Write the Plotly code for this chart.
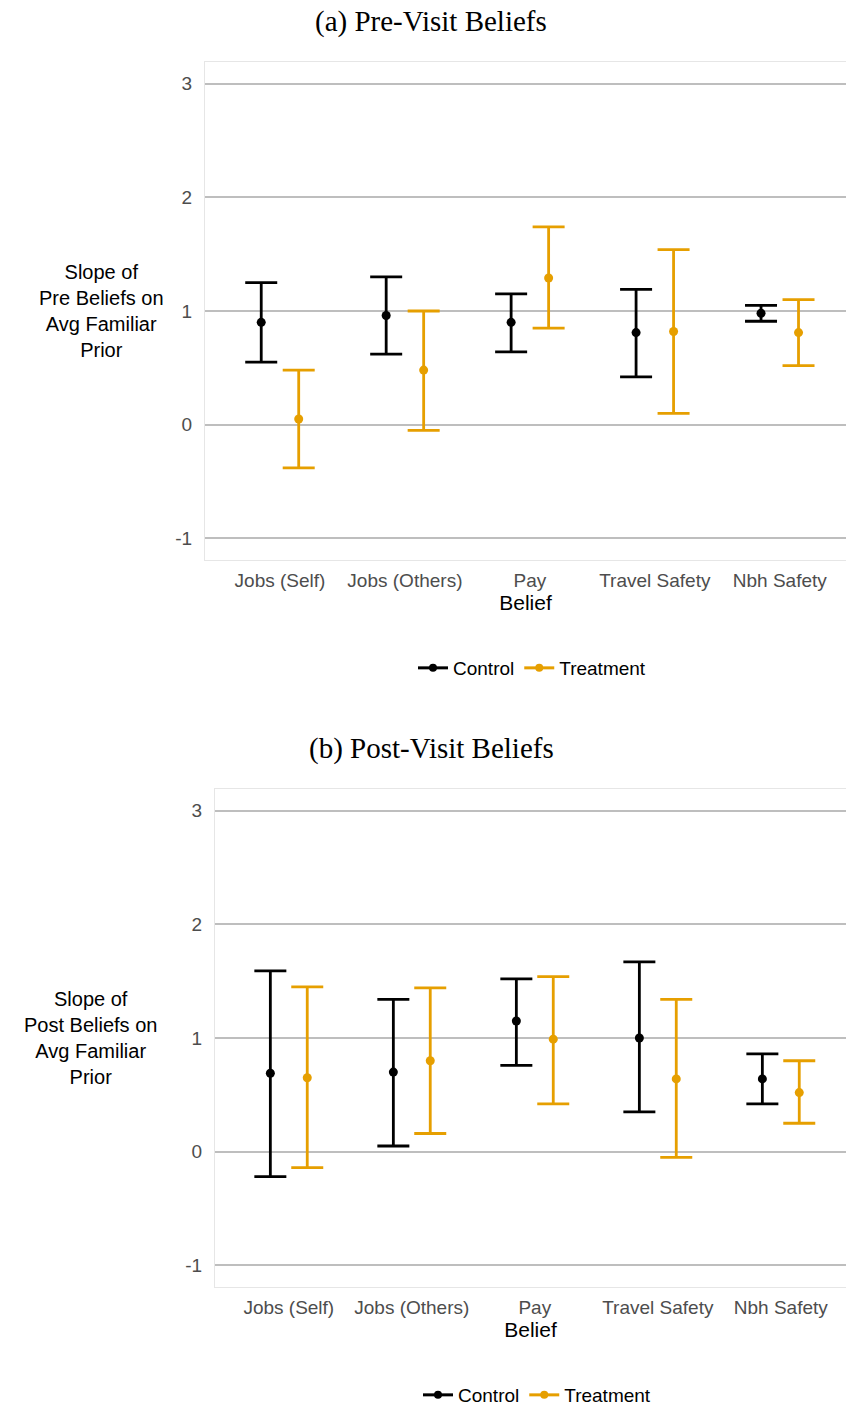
import plotly.graph_objects as go

categories = ["Jobs (Self)", "Jobs (Others)", "Pay", "Travel Safety", "Nbh Safety"]

# Panel (a) Pre-visit
pre_ctrl_est = [0.90, 0.96, 0.90, 0.81, 0.98]
pre_ctrl_hi = [1.25, 1.30, 1.15, 1.19, 1.05]
pre_ctrl_lo = [0.55, 0.62, 0.64, 0.42, 0.91]
pre_trt_est = [0.05, 0.48, 1.29, 0.82, 0.81]
pre_trt_hi = [0.48, 1.00, 1.74, 1.54, 1.10]
pre_trt_lo = [-0.38, -0.05, 0.85, 0.10, 0.52]

# Panel (b) Post-visit
post_ctrl_est = [0.69, 0.70, 1.15, 1.00, 0.64]
post_ctrl_hi = [1.59, 1.34, 1.52, 1.67, 0.86]
post_ctrl_lo = [-0.22, 0.05, 0.76, 0.35, 0.42]
post_trt_est = [0.65, 0.80, 0.99, 0.64, 0.52]
post_trt_hi = [1.45, 1.44, 1.54, 1.34, 0.80]
post_trt_lo = [-0.14, 0.16, 0.42, -0.05, 0.25]

groups = ["Control", "Treatment"]
colors = {"Control": "#000000", "Treatment": "#E69F00"}
dodge = {"Control": -0.15, "Treatment": 0.15}
ytick_vals = [-1, 0, 1, 2, 3]

W, H = 846, 1406
fig = go.Figure()

panels = [
    dict(xa="x", ya="y", legend="legend",
         data={"Control": (pre_ctrl_est, pre_ctrl_hi, pre_ctrl_lo),
               "Treatment": (pre_trt_est, pre_trt_hi, pre_trt_lo)}),
    dict(xa="x2", ya="y2", legend="legend2",
         data={"Control": (post_ctrl_est, post_ctrl_hi, post_ctrl_lo),
               "Treatment": (post_trt_est, post_trt_hi, post_trt_lo)}),
]

for p in panels:
    for g in groups:
        est, hi, lo = p["data"][g]
        xs = [i + 1 + dodge[g] for i in range(len(categories))]
        fig.add_trace(go.Scatter(
            x=xs, y=est, mode="markers", xaxis=p["xa"], yaxis=p["ya"],
            marker=dict(color=colors[g], size=9),
            error_y=dict(type="data", symmetric=False,
                         array=[h - e for h, e in zip(hi, est)],
                         arrayminus=[e - l for e, l in zip(est, lo)],
                         color=colors[g], thickness=2.8, width=16),
            showlegend=False, hoverinfo="skip"))
    for g in groups:
        fig.add_trace(go.Scatter(
            x=[None], y=[None], mode="lines+markers", name=g,
            xaxis=p["xa"], yaxis=p["ya"], legend=p["legend"],
            line=dict(color=colors[g], width=3), marker=dict(color=colors[g], size=8)))

def px_x(x):
    return x / W

def px_y(y):
    return 1 - y / H

def ydom(top, bottom):
    return [px_y(bottom), px_y(top)]

sans = "Liberation Sans, Arial"
tickfont = dict(family=sans, size=19, color="#4d4d4d")
axis_common = dict(showgrid=False, zeroline=False, showline=True, linecolor="#e6e6e6",
                   linewidth=1, mirror=True, ticks="", automargin=False,
                   tickvals=[1, 2, 3, 4, 5], ticktext=categories, tickfont=tickfont,
                   range=[0.4, 5.53], ticklabelstandoff=3,
                   title=dict(text="Belief", font=dict(family=sans, size=21, color="black"), standoff=2))
yaxis_common = dict(showgrid=True, gridcolor="#bebebe", gridwidth=2, zeroline=False,
                    showline=True, linecolor="#e6e6e6", linewidth=1, mirror=True,
                    tickvals=ytick_vals, ticktext=[str(v) for v in ytick_vals],
                    range=[-1.19, 3.19], ticks="", automargin=False, ticklabelstandoff=8,
                    tickfont=tickfont)

fig.update_layout(
    width=W, height=H, margin=dict(l=0, r=0, t=0, b=0, autoexpand=False),
    plot_bgcolor="white", paper_bgcolor="white",
    xaxis=dict(domain=[px_x(205), 1], anchor="y", **axis_common),
    yaxis=dict(domain=ydom(62, 560), anchor="x", **yaxis_common),
    xaxis2=dict(domain=[px_x(215), 1], anchor="y2", **axis_common),
    yaxis2=dict(domain=ydom(789, 1287), anchor="x2", **yaxis_common),
    legend=dict(orientation="h", x=px_x(532), xanchor="center", y=px_y(668), yanchor="middle",
                font=dict(family=sans, size=19, color="black"),
                bgcolor="rgba(0,0,0,0)"),
    legend2=dict(orientation="h", x=px_x(537), xanchor="center", y=px_y(1395), yanchor="middle",
                 font=dict(family=sans, size=19, color="black"),
                 bgcolor="rgba(0,0,0,0)"),
)

title_font = dict(family="Liberation Serif, Times New Roman, serif", size=29, color="black")
fig.add_annotation(text="(a) Pre-Visit Beliefs", x=px_x(431), y=px_y(21), xref="paper", yref="paper",
                   showarrow=False, font=title_font, xanchor="center", yanchor="middle")
fig.add_annotation(text="(b) Post-Visit Beliefs", x=px_x(431), y=px_y(748), xref="paper", yref="paper",
                   showarrow=False, font=title_font, xanchor="center", yanchor="middle")

ylab_font = dict(family=sans, size=20, color="black")
fig.add_annotation(text="Slope of<br>Pre Beliefs on<br>Avg Familiar<br>Prior", x=px_x(101), y=px_y(311),
                   xref="paper", yref="paper", showarrow=False, font=ylab_font,
                   xanchor="center", yanchor="middle", align="center")
fig.add_annotation(text="Slope of<br>Post Beliefs on<br>Avg Familiar<br>Prior", x=px_x(90), y=px_y(1038),
                   xref="paper", yref="paper", showarrow=False, font=ylab_font,
                   xanchor="center", yanchor="middle", align="center")

fig.write_html("out.html", config={"displayModeBar": False},
               post_script="document.body.style.margin='0';document.body.style.overflow='hidden';")
